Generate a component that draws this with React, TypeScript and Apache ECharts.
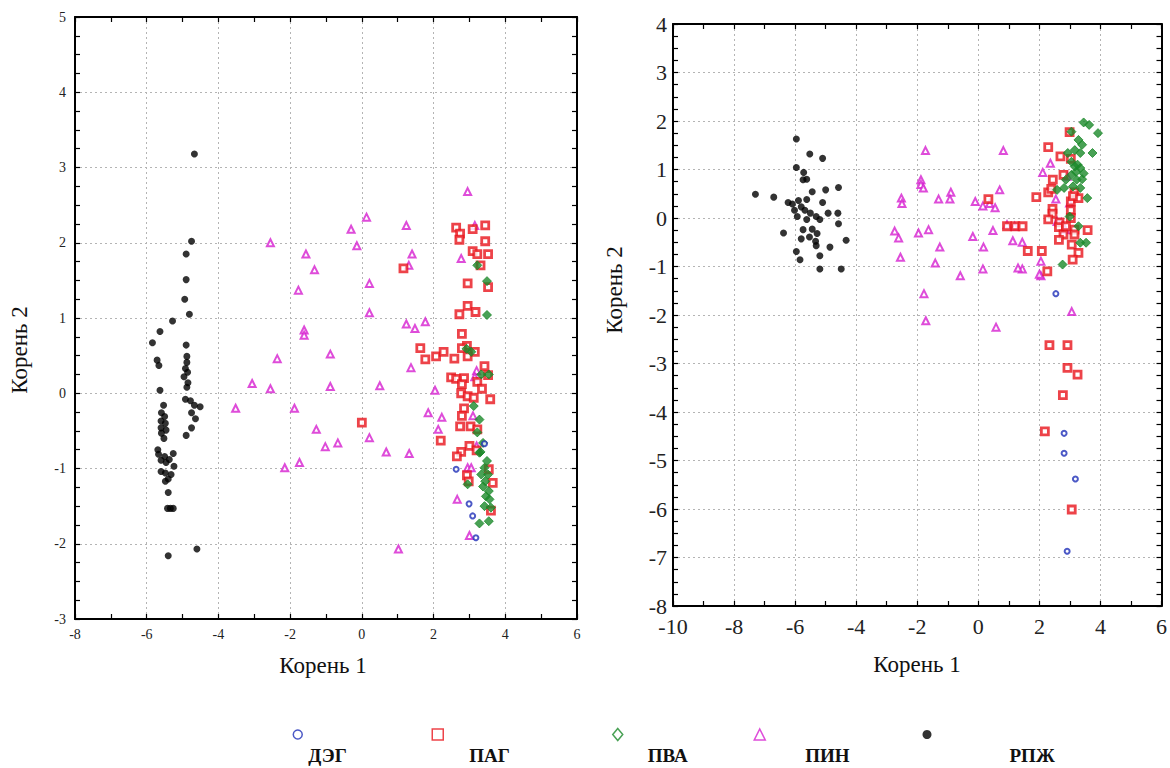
import React, { useEffect, useRef } from "react";
import * as echarts from "echarts";

// ---------- DATA ----------
const seriesNames = ["ДЭГ", "ПАГ", "ПВА", "ПИН", "РПЖ"];
const xAxisTitle = "Корень 1";
const yAxisTitle = "Корень 2";

// Left panel
const leftDEG = [[2.63, -1.01], [2.99, -1.47], [3.09, -1.63], [3.18, -1.92], [3.42, -0.67]];
const leftPAG = [
  [2.63, 2.2], [2.74, 2.12], [2.72, 2.04], [3.09, 2.18], [3.44, 2.23], [3.44, 2.02], [3.09, 1.89], [3.22, 1.85],
  [3.52, 1.85], [3.31, 1.7], [1.16, 1.66], [2.95, 1.46], [3.52, 1.41], [2.72, 1.05], [2.95, 1.16], [3.17, 1.08],
  [2.79, 0.79], [1.63, 0.6], [1.77, 0.45], [2.07, 0.49], [2.28, 0.55], [2.58, 0.46], [2.93, 0.63], [2.79, 0.6],
  [3.15, 0.55], [2.95, 0.49], [3.42, 0.36], [3.52, 0.24], [2.49, 0.21], [2.63, 0.19], [2.85, 0.2], [2.79, 0.12],
  [3.22, 0.15], [3.35, 0.06], [2.77, 0.0], [2.95, -0.04], [3.12, -0.06], [3.58, -0.08], [2.85, -0.2], [2.79, -0.3],
  [2.74, -0.44], [3.03, -0.44], [3.22, -0.48], [0.0, -0.39], [2.2, -0.63], [3.0, -0.7], [2.77, -0.78], [2.65, -0.84],
  [3.2, -0.76], [3.54, -1.01], [2.93, -1.09], [2.98, -1.17], [3.65, -1.19], [3.6, -1.56],
];
const leftPVA = [
  [3.22, 1.7], [3.49, 1.49], [3.49, 1.04], [2.92, 0.59], [3.05, 0.55], [3.33, 0.25], [3.54, 0.25], [3.12, -0.17],
  [3.28, -0.35], [3.22, -0.52], [3.38, -0.66], [3.31, -0.78], [3.28, -0.79], [3.49, -0.9], [3.42, -0.99],
  [3.33, -1.08], [3.52, -1.08], [3.44, -1.17], [3.38, -1.24], [3.54, -1.3], [3.46, -1.37], [3.56, -1.41],
  [3.42, -1.5], [3.6, -1.52], [3.28, -1.73], [3.54, -1.7], [2.95, -1.21],
];
const leftPIN = [
  [2.95, 2.68], [0.13, 2.34], [1.24, 2.23], [-0.3, 2.18], [-2.55, 2.0], [-0.14, 1.96], [-1.56, 1.85], [1.4, 1.85],
  [-1.32, 1.64], [3.15, 2.23], [2.77, 1.79], [1.31, 1.7], [0.21, 1.46], [-1.77, 1.37], [0.21, 1.07], [1.24, 0.92],
  [1.48, 0.86], [1.77, 0.95], [-1.61, 0.84], [-1.61, 0.77], [-0.88, 0.52], [-2.36, 0.46], [1.37, 0.34], [-3.06, 0.13],
  [-2.55, 0.06], [-0.88, 0.09], [0.5, 0.1], [2.04, 0.04], [-3.52, -0.2], [-1.88, -0.2], [1.85, -0.26], [2.23, -0.32],
  [2.13, -0.48], [-1.27, -0.48], [0.21, -0.59], [-0.67, -0.66], [-1.02, -0.71], [0.68, -0.78], [1.32, -0.8],
  [-1.74, -0.92], [-2.15, -0.99], [2.66, -1.41], [2.95, -0.99], [3.05, -0.99], [3.0, -1.89], [1.02, -2.07],
  [3.2, 0.3], [3.1, -0.3], [3.2, -0.7], [3.15, 0.22],
];
const leftRPZH = [
  [-4.67, 3.18], [-4.75, 2.02], [-4.9, 1.85], [-4.9, 1.51], [-4.94, 1.25], [-4.81, 1.05], [-5.28, 0.96], [-5.63, 0.82],
  [-5.84, 0.67], [-5.71, 0.44], [-5.66, 0.37], [-4.9, 0.64], [-4.88, 0.49], [-4.88, 0.41], [-4.92, 0.33], [-4.86, 0.28],
  [-4.96, 0.22], [-4.85, 0.14], [-4.88, 0.08], [-5.63, 0.04], [-4.92, -0.08], [-4.78, -0.1], [-4.67, -0.16],
  [-4.51, -0.18], [-4.75, -0.26], [-4.64, -0.34], [-4.75, -0.46], [-4.9, -0.56], [-5.53, -0.16], [-5.59, -0.26],
  [-5.5, -0.31], [-5.6, -0.37], [-5.48, -0.4], [-5.6, -0.46], [-5.46, -0.49], [-5.59, -0.53], [-5.52, -0.6],
  [-5.69, -0.75], [-5.67, -0.81], [-5.5, -0.84], [-5.6, -0.89], [-5.26, -0.8], [-5.37, -0.88], [-5.46, -0.92],
  [-5.24, -0.97], [-5.6, -1.04], [-5.48, -1.06], [-5.32, -1.08], [-5.4, -1.14], [-5.48, -1.17], [-5.4, -1.32],
  [-5.42, -1.53], [-5.34, -1.53], [-5.26, -1.53], [-5.4, -2.16], [-4.6, -2.07],
];

// Right panel
const rightDEG = [[2.54, -1.56], [2.81, -4.44], [2.81, -4.85], [3.18, -5.38], [2.91, -6.87]];
const rightPAG = [
  [2.29, 1.46], [2.99, 1.77], [2.69, 1.27], [3.03, 1.22], [2.79, 0.89], [2.44, 0.79], [2.29, 0.53], [2.39, 0.6],
  [1.9, 0.43], [3.15, 0.53], [3.03, 0.34], [3.28, 0.41], [2.43, 0.19], [2.43, 0.09], [2.29, -0.03], [3.03, 0.16],
  [3.03, 0.0], [2.66, -0.09], [2.64, -0.19], [3.15, -0.24], [2.79, -0.34], [3.15, -0.34], [3.58, -0.25],
  [2.64, -0.45], [3.06, -0.55], [3.28, -0.72], [3.09, -0.86], [1.62, -0.68], [2.08, -0.68], [2.26, -1.1],
  [0.94, -0.17], [1.21, -0.17], [1.45, -0.17], [0.33, 0.39], [3.1, 0.45], [2.87, -0.17],
  [2.33, -2.62], [2.92, -2.62], [2.92, -3.09], [3.25, -3.23], [2.77, -3.65], [2.18, -4.4], [3.06, -6.01],
];
const rightPVA = [
  [3.45, 1.97], [3.63, 1.92], [3.92, 1.75], [3.05, 1.78], [3.28, 1.61], [3.4, 1.51], [3.16, 1.4], [2.93, 1.34],
  [3.34, 1.34], [3.74, 1.34], [3.05, 1.16], [3.16, 1.06], [3.34, 1.03], [3.45, 0.92], [3.05, 0.89], [3.22, 0.79],
  [2.87, 0.79], [3.1, 0.65], [2.81, 0.62], [2.58, 0.58], [3.34, 0.62], [3.57, 0.41], [2.99, 0.03], [3.28, -0.17],
  [3.34, -0.51], [3.53, -0.51], [2.76, -0.96], [3.25, 1.1], [3.4, 0.8], [3.2, 0.95],
];
const rightPIN = [
  [-1.73, 1.39], [0.82, 1.39], [-1.88, 0.79], [-1.88, 0.69], [-1.8, 0.62], [-2.52, 0.41], [-2.5, 0.3], [-1.3, 0.39],
  [-0.9, 0.53], [-0.93, 0.39], [-0.1, 0.34], [0.15, 0.25], [0.37, 0.3], [0.55, 0.21], [0.7, 0.58], [-2.74, -0.27],
  [-2.61, -0.41], [-1.96, -0.31], [-1.63, -0.24], [-0.18, -0.38], [0.48, -0.26], [0.17, -0.6], [-1.26, -0.6],
  [-2.55, -0.81], [-1.41, -0.93], [-0.59, -1.19], [0.15, -1.05], [1.13, -0.47], [1.44, -0.5], [1.44, -1.05],
  [2.05, -0.89], [2.05, -1.19], [2.36, 1.13], [2.11, 0.94], [-1.78, -1.56], [0.94, -0.14], [1.19, -0.17],
  [2.54, 0.39], [2.72, -0.09], [2.85, -0.24], [2.99, 0.31], [2.58, -0.07], [2.91, 0.86], [1.3, -1.03], [2.0, -1.16],
  [-1.72, -2.12], [0.58, -2.25], [3.06, -1.93],
];
const rightRPZH = [
  [-5.96, 1.63], [-5.52, 1.32], [-5.1, 1.23], [-5.96, 1.04], [-5.72, 0.94], [-5.74, 0.79], [-5.62, 0.8], [-4.58, 0.63],
  [-5.0, 0.58], [-5.44, 0.54], [-7.3, 0.49], [-6.7, 0.43], [-5.1, 0.32], [-6.23, 0.32], [-6.09, 0.29], [-5.89, 0.36],
  [-5.62, 0.38], [-5.8, 0.23], [-6.02, 0.16], [-5.68, 0.16], [-5.5, 0.1], [-5.93, 0.03], [-5.31, 0.03], [-5.19, -0.03],
  [-4.92, 0.1], [-4.6, 0.1], [-4.58, -0.12], [-5.62, -0.03], [-5.44, -0.23], [-5.74, -0.24], [-6.38, -0.31],
  [-5.28, -0.32], [-5.53, -0.39], [-5.8, -0.43], [-5.33, -0.48], [-4.33, -0.46], [-4.86, -0.6], [-5.31, -0.57],
  [-5.96, -0.69], [-5.19, -0.78], [-5.84, -0.86], [-5.19, -1.05], [-4.49, -1.05],
];

// axis ranges
const leftX = { min: -8, max: 6, interval: 2 };
const leftY = { min: -3, max: 5, interval: 1 };
const rightX = { min: -10, max: 6, interval: 2 };
const rightY = { min: -8, max: 4, interval: 1 };

// ---------- STYLE ----------
const FONT = "Times New Roman, Liberation Serif, DejaVu Serif, serif";
const COLORS = ["#1f2fb8", "#e8141c", "#1b8a2a", "#d61fd0", "#000000"];

const markerStyles = [
  { symbol: "circle", size: 5, itemStyle: { color: "#ffffff", borderColor: COLORS[0], borderWidth: 2 }, z: 6 },
  { symbol: "rect", size: 7, itemStyle: { color: "#ffffff", borderColor: COLORS[1], borderWidth: 2.8 }, z: 4 },
  { symbol: "diamond", size: 9, itemStyle: { color: COLORS[2], borderColor: COLORS[2], borderWidth: 1 }, z: 5 },
  { symbol: "triangle", size: 7, itemStyle: { color: "#ffffff", borderColor: COLORS[3], borderWidth: 2 }, z: 3 },
  { symbol: "circle", size: 7, itemStyle: { color: COLORS[4] }, z: 3 },
];

const legendIcons = [
  { icon: "circle", w: 9, h: 11, cx: 297, pad: 1, itemStyle: { color: "#fff", borderColor: COLORS[0], borderWidth: 1.5 } },
  { icon: "rect", w: 11, h: 11, cx: 437, pad: 21, itemStyle: { color: "#fff", borderColor: COLORS[1], borderWidth: 1.5 } },
  { icon: "diamond", w: 10, h: 12, cx: 617, pad: 20, itemStyle: { color: "#fff", borderColor: COLORS[2], borderWidth: 1.5 } },
  { icon: "triangle", w: 11, h: 11, cx: 759, pad: 35, itemStyle: { color: "#fff", borderColor: COLORS[3], borderWidth: 1.5 } },
  { icon: "circle", w: 9, h: 11, cx: 927, pad: 73, itemStyle: { color: "#000", borderColor: "#000", borderWidth: 0 } },
];

function makeAxis(gridIndex: number, range: any, position: string, minorSplit: number, labelSize: number, margin: number, main: boolean) {
  return {
    type: "value",
    gridIndex,
    position,
    min: range.min,
    max: range.max,
    interval: range.interval,
    axisLine: { show: true, onZero: false, lineStyle: { color: "#000", width: 2 } },
    axisTick: { show: true, inside: true, length: 5, lineStyle: { color: "#000", width: 1.2 } },
    minorTick: { show: true, splitNumber: minorSplit, length: 5, lineStyle: { color: "#000", width: 1.2 } },
    axisLabel: { show: main, fontFamily: FONT, fontSize: labelSize, color: "#222", margin },
    splitLine: { show: main, lineStyle: { color: "#b4b4b4", width: 1, type: [2, 3] } },
    minorSplitLine: { show: false },
  };
}

export default function App() {
  const ref = useRef<HTMLDivElement>(null);
  useEffect(() => {
    if (!ref.current) return;
    const chart = echarts.init(ref.current, undefined, { renderer: "svg" });

    const leftData = [leftDEG, leftPAG, leftPVA, leftPIN, leftRPZH];
    const rightData = [rightDEG, rightPAG, rightPVA, rightPIN, rightRPZH];
    const series: any[] = [];
    seriesNames.forEach((name, i) => {
      const m = markerStyles[i];
      series.push({
        type: "scatter", name, data: leftData[i], xAxisIndex: 0, yAxisIndex: 0,
        symbol: m.symbol, symbolSize: m.size, itemStyle: m.itemStyle, z: m.z,
      });
      series.push({
        type: "scatter", name, data: rightData[i], xAxisIndex: 2, yAxisIndex: 2,
        symbol: m.symbol, symbolSize: m.size, itemStyle: m.itemStyle, z: m.z,
      });
    });

    const legends = seriesNames.map((name, i) => {
      const L = legendIcons[i];
      return {
        show: true,
        selectedMode: false,
        left: L.cx - L.w / 2,
        top: 704,
        padding: 0,
        itemWidth: L.w,
        itemHeight: L.h,
        data: [{ name, icon: L.icon, itemStyle: L.itemStyle }],
        formatter: "{t|{name}}",
        textStyle: {
          rich: {
            t: {
              fontFamily: FONT, fontSize: 19, fontWeight: "bold", color: "#111",
              lineHeight: 20, padding: [42, 0, 0, L.pad],
            },
          },
        },
      };
    });

    chart.setOption({
      animation: false,
      backgroundColor: "#ffffff",
      grid: [
        { left: 75, right: 593, top: 17, bottom: 149 },
        { left: 673, right: 5, top: 24, bottom: 162 },
      ],
      xAxis: [
        makeAxis(0, leftX, "bottom", 2, 14, 8, true),
        makeAxis(0, leftX, "top", 2, 14, 8, false),
        makeAxis(1, rightX, "bottom", 2, 22, 9, true),
        makeAxis(1, rightX, "top", 2, 22, 9, false),
      ],
      yAxis: [
        makeAxis(0, leftY, "left", 4, 14, 9, true),
        makeAxis(0, leftY, "right", 4, 14, 9, false),
        makeAxis(1, rightY, "left", 4, 22, 6, true),
        makeAxis(1, rightY, "right", 4, 22, 6, false),
      ],
      legend: legends,
      series,
      graphic: [
        { type: "text", x: 323, y: 665, style: { text: xAxisTitle, fontFamily: FONT, fontSize: 23, fill: "#111", align: "center", verticalAlign: "middle" } },
        { type: "text", x: 917, y: 664, style: { text: xAxisTitle, fontFamily: FONT, fontSize: 23, fill: "#111", align: "center", verticalAlign: "middle" } },
        { type: "text", x: 19, y: 350, rotation: Math.PI / 2, style: { text: yAxisTitle, fontFamily: FONT, fontSize: 23, fill: "#111", align: "center", verticalAlign: "middle" } },
        { type: "text", x: 614, y: 290, rotation: Math.PI / 2, style: { text: yAxisTitle, fontFamily: FONT, fontSize: 23, fill: "#111", align: "center", verticalAlign: "middle" } },
      ],
    });
    return () => chart.dispose();
  }, []);
  return <div ref={ref} style={{ position: "fixed", left: 0, top: 0, width: 1170, height: 768, background: "#fff" }} />;
}
